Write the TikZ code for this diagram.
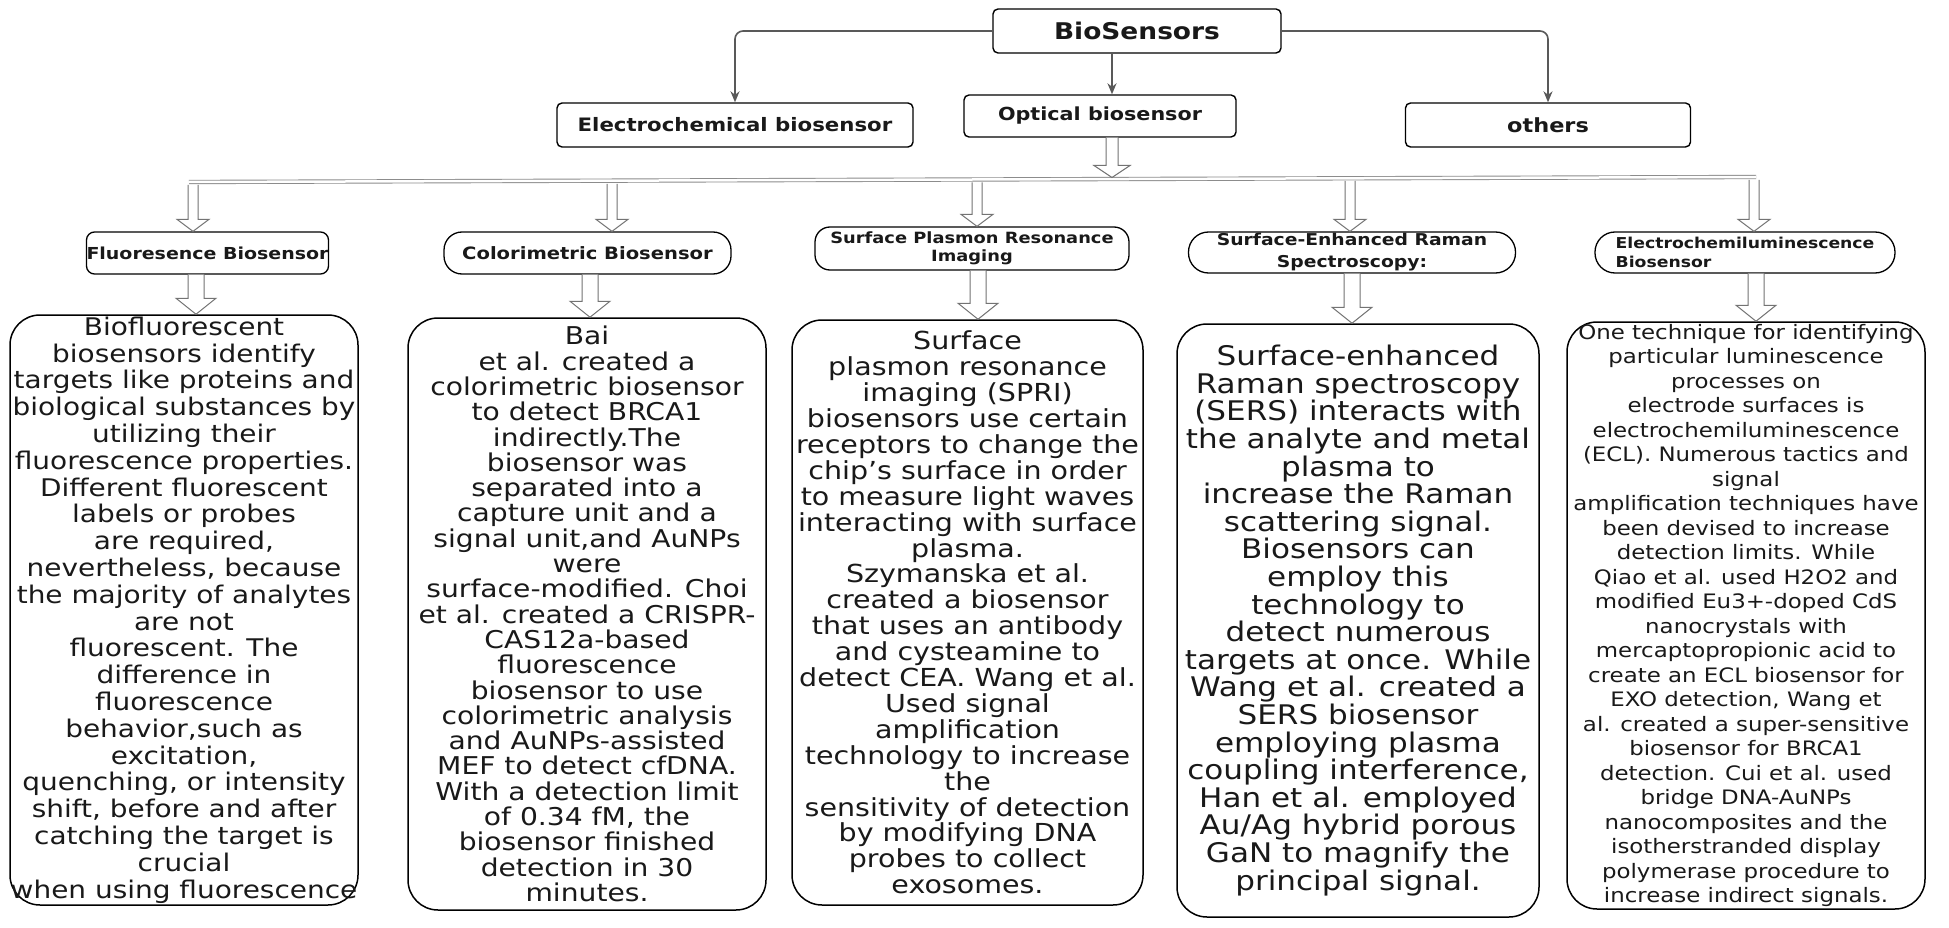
\documentclass[tikz,border=0pt]{standalone}
\usepackage{fontspec}
\setmainfont{DejaVu Sans}[FakeStretch=1.15]
\usetikzlibrary{calc,arrows.meta}
\tikzset{
  topbox/.style={draw=black, line width=1.4pt, rounded corners=5pt, inner sep=0pt, align=center, text=black!90},
  headbox/.style={draw=black, line width=1.3pt, inner sep=0pt, align=center, text=black!90},
  bodybox/.style={draw=black, line width=1.5pt, rounded corners=30pt, inner sep=0pt, align=center, text=black!90},
  conn/.style={draw=black!65, line width=1.6pt, rounded corners=8pt, -{Stealth[length=11pt,width=9pt]}},
  harrowline/.style={draw=black!55, line width=1pt, fill=white, line join=miter},
  busline/.style={draw=black!45, line width=0.9pt, double=white, double distance=2.5pt},
}
\newcommand{\hollowdown}[5]{%
  \draw[harrowline] let \p1=(#1), \p2=(#2) in
    (\x1-#3,\y1) -- (\x1-#3,\y2+#5) -- (\x1-#4,\y2+#5) -- (\x1,\y2) --
    (\x1+#4,\y2+#5) -- (\x1+#3,\y2+#5) -- (\x1+#3,\y1);
}
\begin{document}
\begin{tikzpicture}[x=1pt,y=-1pt]
\fill[white] (0,0) rectangle (1949,928);
\useasboundingbox (0,0) rectangle (1949,928);

% top level
\node[topbox, minimum width=288pt, minimum height=44pt, font=\bfseries\fontsize{23}{27}\selectfont] (bio) at (1137,31) {BioSensors};
\node[topbox, minimum width=356pt, minimum height=44pt, font=\bfseries\fontsize{18.5}{22}\selectfont] (elec) at (735,125) {Electrochemical biosensor};
\node[topbox, minimum width=272pt, minimum height=42pt, font=\bfseries\fontsize{18}{22}\selectfont] (opt) at (1100,116) {Optical biosensor};
\node[topbox, minimum width=285pt, minimum height=44pt, font=\bfseries\fontsize{19.5}{23}\selectfont] (others) at (1548,125) {others};

\coordinate (optin) at ([xshift=12pt]opt.north);
\coordinate (optout) at ([xshift=12pt]opt.south);
\draw[conn] (bio.west) -| (elec.north);
\draw[conn] (bio.east) -| (others.north);
\draw[conn] (optin |- bio.south) -- (optin);

% bus
\coordinate (busL) at (189,182);
\coordinate (busR) at (1756,177);
\draw[busline] (busL) -- (busR);
\coordinate (busTop) at (1112,177.5);
\hollowdown{optout}{optout |- busTop}{6}{18}{12}

% headers
\node[headbox, rounded corners=8pt, minimum width=241pt, minimum height=42pt, font=\bfseries\fontsize{16.5}{19}\selectfont] (h1) at (207.5,253) {Fluoresence Biosensor};
\node[headbox, rounded corners=18pt, minimum width=287pt, minimum height=42pt, font=\bfseries\fontsize{17}{20}\selectfont] (h2) at (587.5,253) {Colorimetric Biosensor};
\node[headbox, rounded corners=15pt, minimum width=314pt, minimum height=43pt, font=\bfseries\fontsize{15.5}{18}\selectfont] (h3) at (972,248.5) {Surface Plasmon Resonance\\Imaging};
\node[headbox, rounded corners=20pt, minimum width=327pt, minimum height=41pt, font=\bfseries\fontsize{16.3}{22}\selectfont] (h4) at (1352,252.5) {Surface-Enhanced Raman\\Spectroscopy:};
\node[headbox, rounded corners=20pt, minimum width=300pt, minimum height=41pt, align=left, font=\bfseries\fontsize{15}{19}\selectfont] (h5) at (1745,252.5) {Electrochemiluminescence\\Biosensor};

% arrows from bus
\coordinate (a1) at (193,185);
\coordinate (a2) at (612,184);
\coordinate (a3) at (977,182.5);
\coordinate (a4) at (1350,181);
\coordinate (a5) at (1754,180);
\hollowdown{a1}{a1 |- h1.north}{5}{16}{12}
\hollowdown{a2}{a2 |- h2.north}{5}{16}{12}
\hollowdown{a3}{a3 |- h3.north}{5}{16}{12}
\hollowdown{a4}{a4 |- h4.north}{5}{16}{12}
\hollowdown{a5}{a5 |- h5.north}{5}{16}{12}

% bodies
\node[bodybox, minimum width=348pt, minimum height=590pt, font=\fontsize{24.3}{26.8}\selectfont] (b1) at (184,610) {Biofluorescent\\biosensors identify\\targets like proteins and\\biological substances by\\utilizing their\\fluorescence properties.\\Different fluorescent\\labels or probes\\are required,\\nevertheless, because\\the majority of analytes\\are not\\fluorescent. The\\difference in\\fluorescence\\behavior,such as\\excitation,\\quenching, or intensity\\shift, before and after\\catching the target is\\crucial\\when using fluorescence};
\node[bodybox, minimum width=358pt, minimum height=592pt, font=\fontsize{24.5}{25.3}\selectfont] (b2) at (587,614) {Bai\\et al. created a\\colorimetric biosensor\\to detect BRCA1\\indirectly.The\\biosensor was\\separated into a\\capture unit and a\\signal unit,and AuNPs\\were\\surface-modified. Choi\\et al. created a CRISPR-\\CAS12a-based\\fluorescence\\biosensor to use\\colorimetric analysis\\and AuNPs-assisted\\MEF to detect cfDNA.\\With a detection limit\\of 0.34 fM, the\\biosensor finished\\detection in 30\\minutes.};
\node[bodybox, minimum width=351pt, minimum height=585pt, font=\fontsize{24.8}{25.9}\selectfont] (b3) at (967.5,612.5) {Surface\\plasmon resonance\\imaging (SPRI)\\biosensors use certain\\receptors to change the\\chip's surface in order\\to measure light waves\\interacting with surface\\plasma.\\Szymanska et al.\\created a biosensor\\that uses an antibody\\and cysteamine to\\detect CEA. Wang et al.\\Used signal\\amplification\\technology to increase\\the\\sensitivity of detection\\by modifying DNA\\probes to collect\\exosomes.};
\node[bodybox, minimum width=362pt, minimum height=593pt, font=\fontsize{27}{27.6}\selectfont] (b4) at (1358,620.5) {Surface-enhanced\\Raman spectroscopy\\(SERS) interacts with\\the analyte and metal\\plasma to\\increase the Raman\\scattering signal.\\Biosensors can\\employ this\\technology to\\detect numerous\\targets at once. While\\Wang et al. created a\\SERS biosensor\\employing plasma\\coupling interference,\\Han et al. employed\\Au/Ag hybrid porous\\GaN to magnify the\\principal signal.};
\node[bodybox, minimum width=358pt, minimum height=587pt, font=\fontsize{19.9}{24.5}\selectfont] (b5) at (1746,615.5) {One technique for identifying\\particular luminescence\\processes on\\electrode surfaces is\\electrochemiluminescence\\(ECL). Numerous tactics and\\signal\\amplification techniques have\\been devised to increase\\detection limits. While\\Qiao et al. used H2O2 and\\modified Eu3+-doped CdS\\nanocrystals with\\mercaptopropionic acid to\\create an ECL biosensor for\\EXO detection, Wang et\\al. created a super-sensitive\\biosensor for BRCA1\\detection. Cui et al. used\\bridge DNA-AuNPs\\nanocomposites and the\\isotherstranded display\\polymerase procedure to\\increase indirect signals.};

% arrows header -> body
\coordinate (l1) at (196,0);
\coordinate (l2) at (590,0);
\coordinate (l3) at (978,0);
\coordinate (l4) at (1352,0);
\coordinate (l5) at (1756,0);
\hollowdown{l1 |- h1.south}{l1 |- b1.north}{8}{20}{16}
\hollowdown{l2 |- h2.south}{l2 |- b2.north}{8}{20}{16}
\hollowdown{l3 |- h3.south}{l3 |- b3.north}{8}{20}{16}
\hollowdown{l4 |- h4.south}{l4 |- b4.north}{8}{20}{16}
\hollowdown{l5 |- h5.south}{l5 |- b5.north}{8}{20}{16}
\end{tikzpicture}
\end{document}
